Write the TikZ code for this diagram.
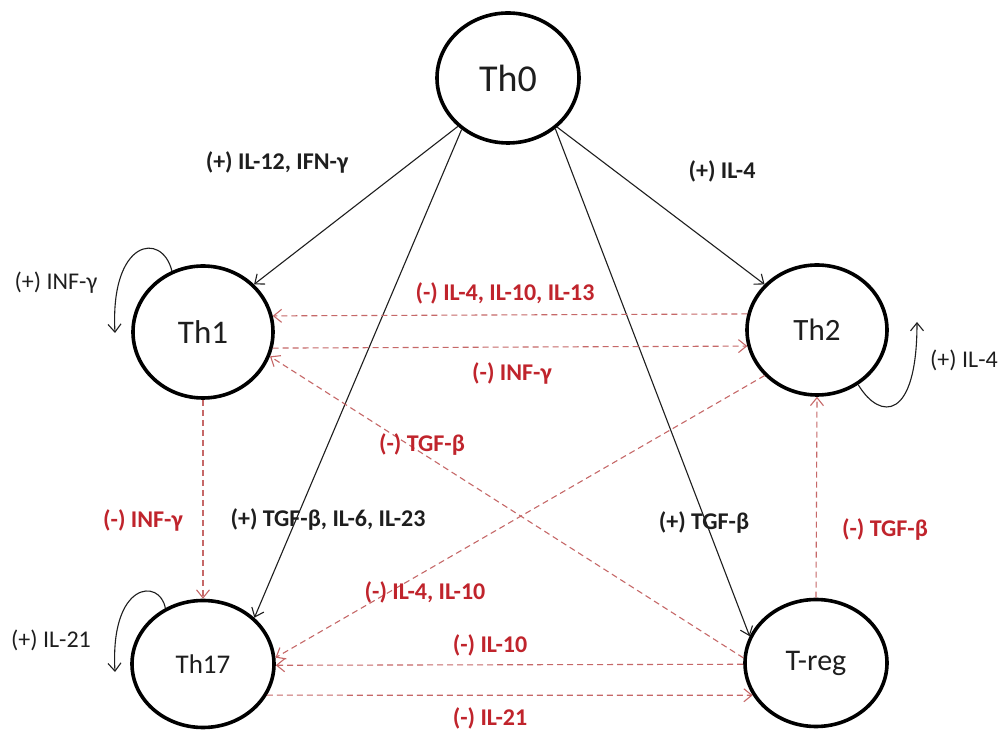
\documentclass[tikz,border=0pt]{standalone}
\usepackage{fontspec}
\setmainfont{Carlito}
\usetikzlibrary{arrows.meta,shapes.geometric}
\definecolor{labred}{RGB}{192,36,44}
\definecolor{dashred}{RGB}{198,104,104}
\definecolor{ink}{RGB}{30,30,30}
\tikzset{
  cell/.style={ellipse,draw=black,line width=3.6pt,inner sep=0pt,text=ink},
  blk/.style={draw=ink,line width=1.1pt,-{Straight Barb[length=8pt,width=13pt,line width=1.1pt]}},
  neg/.style={draw=dashred,line width=1.1pt,dash pattern=on 6pt off 4pt,-{Straight Barb[length=8pt,width=13pt,line width=1.1pt]}},
  poslbl/.style={text=ink,font=\fontsize{24}{28}\selectfont\bfseries,inner sep=0pt},
  neglbl/.style={text=labred,font=\fontsize{24}{28}\selectfont\bfseries,inner sep=0pt},
  looplbl/.style={text=ink,font=\fontsize{24}{28}\selectfont,inner sep=0pt}
}
\begin{document}
\begin{tikzpicture}[x=1pt,y=1pt]
\useasboundingbox[fill=white] (0,0) rectangle (1002,731);
% cells
\node[cell,minimum width=142pt,minimum height=130pt,font=\fontsize{38}{40}\selectfont] (Th0) at (508,653) {Th0};
\node[cell,minimum width=140pt,minimum height=132pt,font=\fontsize{33}{36}\selectfont] (Th1) at (203,399) {Th1};
\node[cell,minimum width=140pt,minimum height=130pt,font=\fontsize{31}{34}\selectfont] (Th2) at (817,401) {Th2};
\node[cell,minimum width=142pt,minimum height=127pt,font=\fontsize{27}{30}\selectfont] (Th17) at (203,67) {Th17};
\node[cell,minimum width=142pt,minimum height=127pt,font=\fontsize{30}{33}\selectfont] (Treg) at (816,68) {T-reg};
% positive differentiation
\draw[blk] (Th0.224) -- (Th1.43);
\draw[blk] (Th0.228) -- (Th17.42);
\draw[blk] (Th0.-45) -- (Th2.139);
\draw[blk] (Th0.-47) -- (Treg.158);
% inhibitions
\draw[neg] (Th2.167) -- (Th1.13);
\draw[neg] (Th1.-13) -- (Th2.193);
\draw[neg] (Treg.176) -- (Th1.-20);
\draw[neg] (Th2.221) -- (Th17.5);
\draw[neg] (Treg.181) -- (Th17.-1);
\draw[neg] (Th17.-26) -- (Treg.207);
\draw[neg] (Th1.south) -- (Th17.north);
\draw[neg] (Treg.north) -- (Th2.south);
% self loops
\coordinate (e1) at (115,398);
\coordinate (e2) at (917,409);
\coordinate (e17) at (115,59);
\draw[blk] (Th1.117) .. controls (162,500) and (110,492) .. (e1);
\draw[blk] (Th2.-53) .. controls (880,310) and (917,310) .. (e2);
\draw[blk] (Th17.124) .. controls (160,153) and (110,150) .. (e17);
% labels
\node[poslbl] (p1) at (277,569) {(+) IL-12, IFN-γ};
\node[poslbl] (p2) at (722,560) {(+) IL-4};
\node[poslbl] (p3) at (328,211) {(+) TGF-β, IL-6, IL-23};
\node[poslbl] (p4) at (704,208) {(+) TGF-β};
\node[neglbl] (n1) at (505,438) {(-) IL-4, IL-10, IL-13};
\node[neglbl] (n2) at (512,358) {(-) INF-γ};
\node[neglbl] (n3) at (422,286) {(-) TGF-β};
\node[neglbl] (n4) at (143,211) {(-) INF-γ};
\node[neglbl] (n5) at (885,201) {(-) TGF-β};
\node[neglbl] (n6) at (425,139) {(-) IL-4, IL-10};
\node[neglbl] (n7) at (490,86) {(-) IL-10};
\node[neglbl] (n8) at (490,13) {(-) IL-21};
\node[looplbl] (s1) at (56,448) {(+) INF-γ};
\node[looplbl] (s2) at (964,371) {(+) IL-4};
\node[looplbl] (s3) at (51,91) {(+) IL-21};
\end{tikzpicture}
\end{document}
